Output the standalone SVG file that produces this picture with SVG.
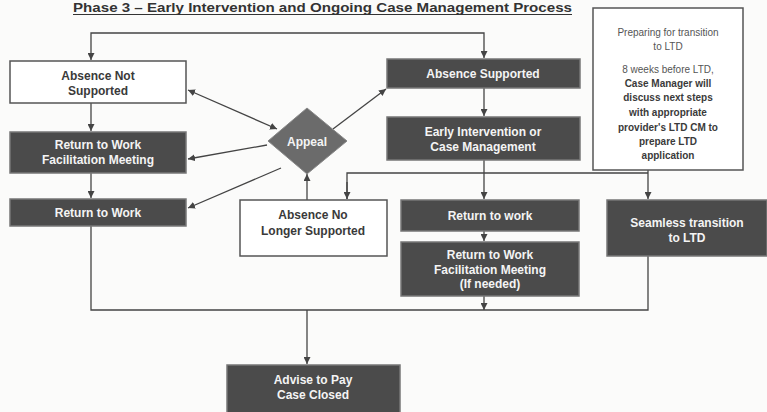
<svg xmlns="http://www.w3.org/2000/svg" width="767" height="412" viewBox="0 0 767 412">
<defs>
<marker id="ah" viewBox="0 0 10 10" refX="10" refY="5" markerWidth="7" markerHeight="7" orient="auto-start-reverse" markerUnits="userSpaceOnUse">
<path d="M0,0 L10,5 L0,10 z" fill="#444"/>
</marker>
<style>
.bg{fill:#fbfbfa}
.dk{fill:#4b4b4b;stroke:#777;stroke-width:1.5}
.wt{fill:#fff;stroke:#555;stroke-width:1.5}
.dm{fill:#6b6b6b;stroke:#888;stroke-width:1}
.tw{font-family:"Liberation Sans",Arial,sans-serif;font-size:12px;font-weight:bold;fill:#f4f4f4;text-anchor:middle}
.tb{font-family:"Liberation Sans",Arial,sans-serif;font-size:12px;font-weight:bold;fill:#3a3a3a;text-anchor:middle}
.tp{font-family:"Liberation Sans",Arial,sans-serif;font-size:10px;fill:#555;text-anchor:middle}
.tpb{font-family:"Liberation Sans",Arial,sans-serif;font-size:10px;font-weight:bold;fill:#3a3a3a;text-anchor:middle}
.ln{fill:none;stroke:#444;stroke-width:1.3}
.ttl{font-family:"Liberation Sans",Arial,sans-serif;font-size:12.5px;font-weight:bold;fill:#333}
</style>
</defs>
<rect class="bg" x="0" y="0" width="767" height="412"/>
<text class="ttl" x="73" y="12" textLength="499" lengthAdjust="spacingAndGlyphs">Phase 3 – Early Intervention and Ongoing Case Management Process</text>
<line x1="73" y1="14.5" x2="572" y2="14.5" stroke="#333" stroke-width="1"/>

<g id="connectors">
<path class="ln" d="M91,60 V33 H484 V58" marker-start="url(#ah)" marker-end="url(#ah)"/>
<path class="ln" d="M91,103 V131" marker-end="url(#ah)"/>
<path class="ln" d="M91,173 V198" marker-end="url(#ah)"/>
<path class="ln" d="M91,226 V310 H648 V256"/>
<path class="ln" d="M484,296 V310" marker-end="url(#ah)"/>
<path class="ln" d="M307,310 V364" marker-end="url(#ah)"/>
<path class="ln" d="M484,88 V116" marker-end="url(#ah)"/>
<path class="ln" d="M484,160 V199" marker-end="url(#ah)"/>
<path class="ln" d="M484,231 V241" marker-end="url(#ah)"/>
<path class="ln" d="M347,199 V173 H648"/>
<path class="ln" d="M347,182 V199" marker-end="url(#ah)"/>
<path class="ln" d="M648,170 V199" marker-end="url(#ah)"/>
<path class="ln" d="M188,90 L277,129" marker-start="url(#ah)" marker-end="url(#ah)"/>
<path class="ln" d="M333,129 L386,89" marker-end="url(#ah)"/>
<path class="ln" d="M267,145 L188,159" marker-end="url(#ah)"/>
<path class="ln" d="M281,168 L188,208" marker-end="url(#ah)"/>
<path class="ln" d="M307,200 V174" marker-end="url(#ah)"/>
</g>

<g id="absence-not-supported">
<rect class="wt" x="10" y="61" width="176" height="42"/>
<text class="tb" x="98" y="80">Absence Not</text>
<text class="tb" x="98" y="95">Supported</text>
</g>
<g id="rtw-facilitation">
<rect class="dk" x="10" y="132" width="176" height="41"/>
<text class="tw" x="98" y="149">Return to Work</text>
<text class="tw" x="98" y="164">Facilitation Meeting</text>
</g>
<g id="return-to-work-left">
<rect class="dk" x="10" y="199" width="176" height="27"/>
<text class="tw" x="98" y="217">Return to Work</text>
</g>
<g id="appeal">
<path class="dm" d="M307,108 L347,141 L307,174 L268,141 z"/>
<text class="tw" x="307" y="146">Appeal</text>
</g>
<g id="absence-no-longer-supported">
<rect class="wt" x="240" y="200" width="147" height="56"/>
<text class="tb" x="313" y="219">Absence No</text>
<text class="tb" x="313" y="235">Longer Supported</text>
</g>
<g id="absence-supported">
<rect class="dk" x="387" y="59" width="193" height="29"/>
<text class="tw" x="483" y="78">Absence Supported</text>
</g>
<g id="early-intervention">
<rect class="dk" x="387" y="117" width="193" height="43"/>
<text class="tw" x="483" y="136">Early Intervention or</text>
<text class="tw" x="483" y="151">Case Management</text>
</g>
<g id="return-to-work-mid">
<rect class="dk" x="401" y="200" width="178" height="31"/>
<text class="tw" x="490" y="220">Return to work</text>
</g>
<g id="rtw-facilitation-if-needed">
<rect class="dk" x="401" y="242" width="178" height="54"/>
<text class="tw" x="490" y="259">Return to Work</text>
<text class="tw" x="490" y="274">Facilitation Meeting</text>
<text class="tw" x="490" y="288">(If needed)</text>
</g>
<g id="preparing-ltd">
<rect class="wt" x="593" y="8" width="150" height="162"/>
<text class="tp" x="668" y="36">Preparing for transition</text>
<text class="tp" x="668" y="50">to LTD</text>
<text class="tp" x="668" y="73">8 weeks before LTD,</text>
<text class="tpb" x="668" y="87">Case Manager  will</text>
<text class="tpb" x="668" y="101">discuss next steps</text>
<text class="tpb" x="668" y="116">with appropriate</text>
<text class="tpb" x="668" y="131">provider's LTD CM to</text>
<text class="tpb" x="668" y="145">prepare LTD</text>
<text class="tpb" x="668" y="159">application</text>
</g>
<g id="seamless-transition">
<rect class="dk" x="607" y="200" width="160" height="56"/>
<text class="tw" x="687" y="227">Seamless transition</text>
<text class="tw" x="687" y="242">to LTD</text>
</g>
<g id="advise-to-pay">
<rect class="dk" x="227" y="365" width="173" height="50"/>
<text class="tw" x="313" y="384">Advise to Pay</text>
<text class="tw" x="313" y="399">Case Closed</text>
</g>
</svg>
